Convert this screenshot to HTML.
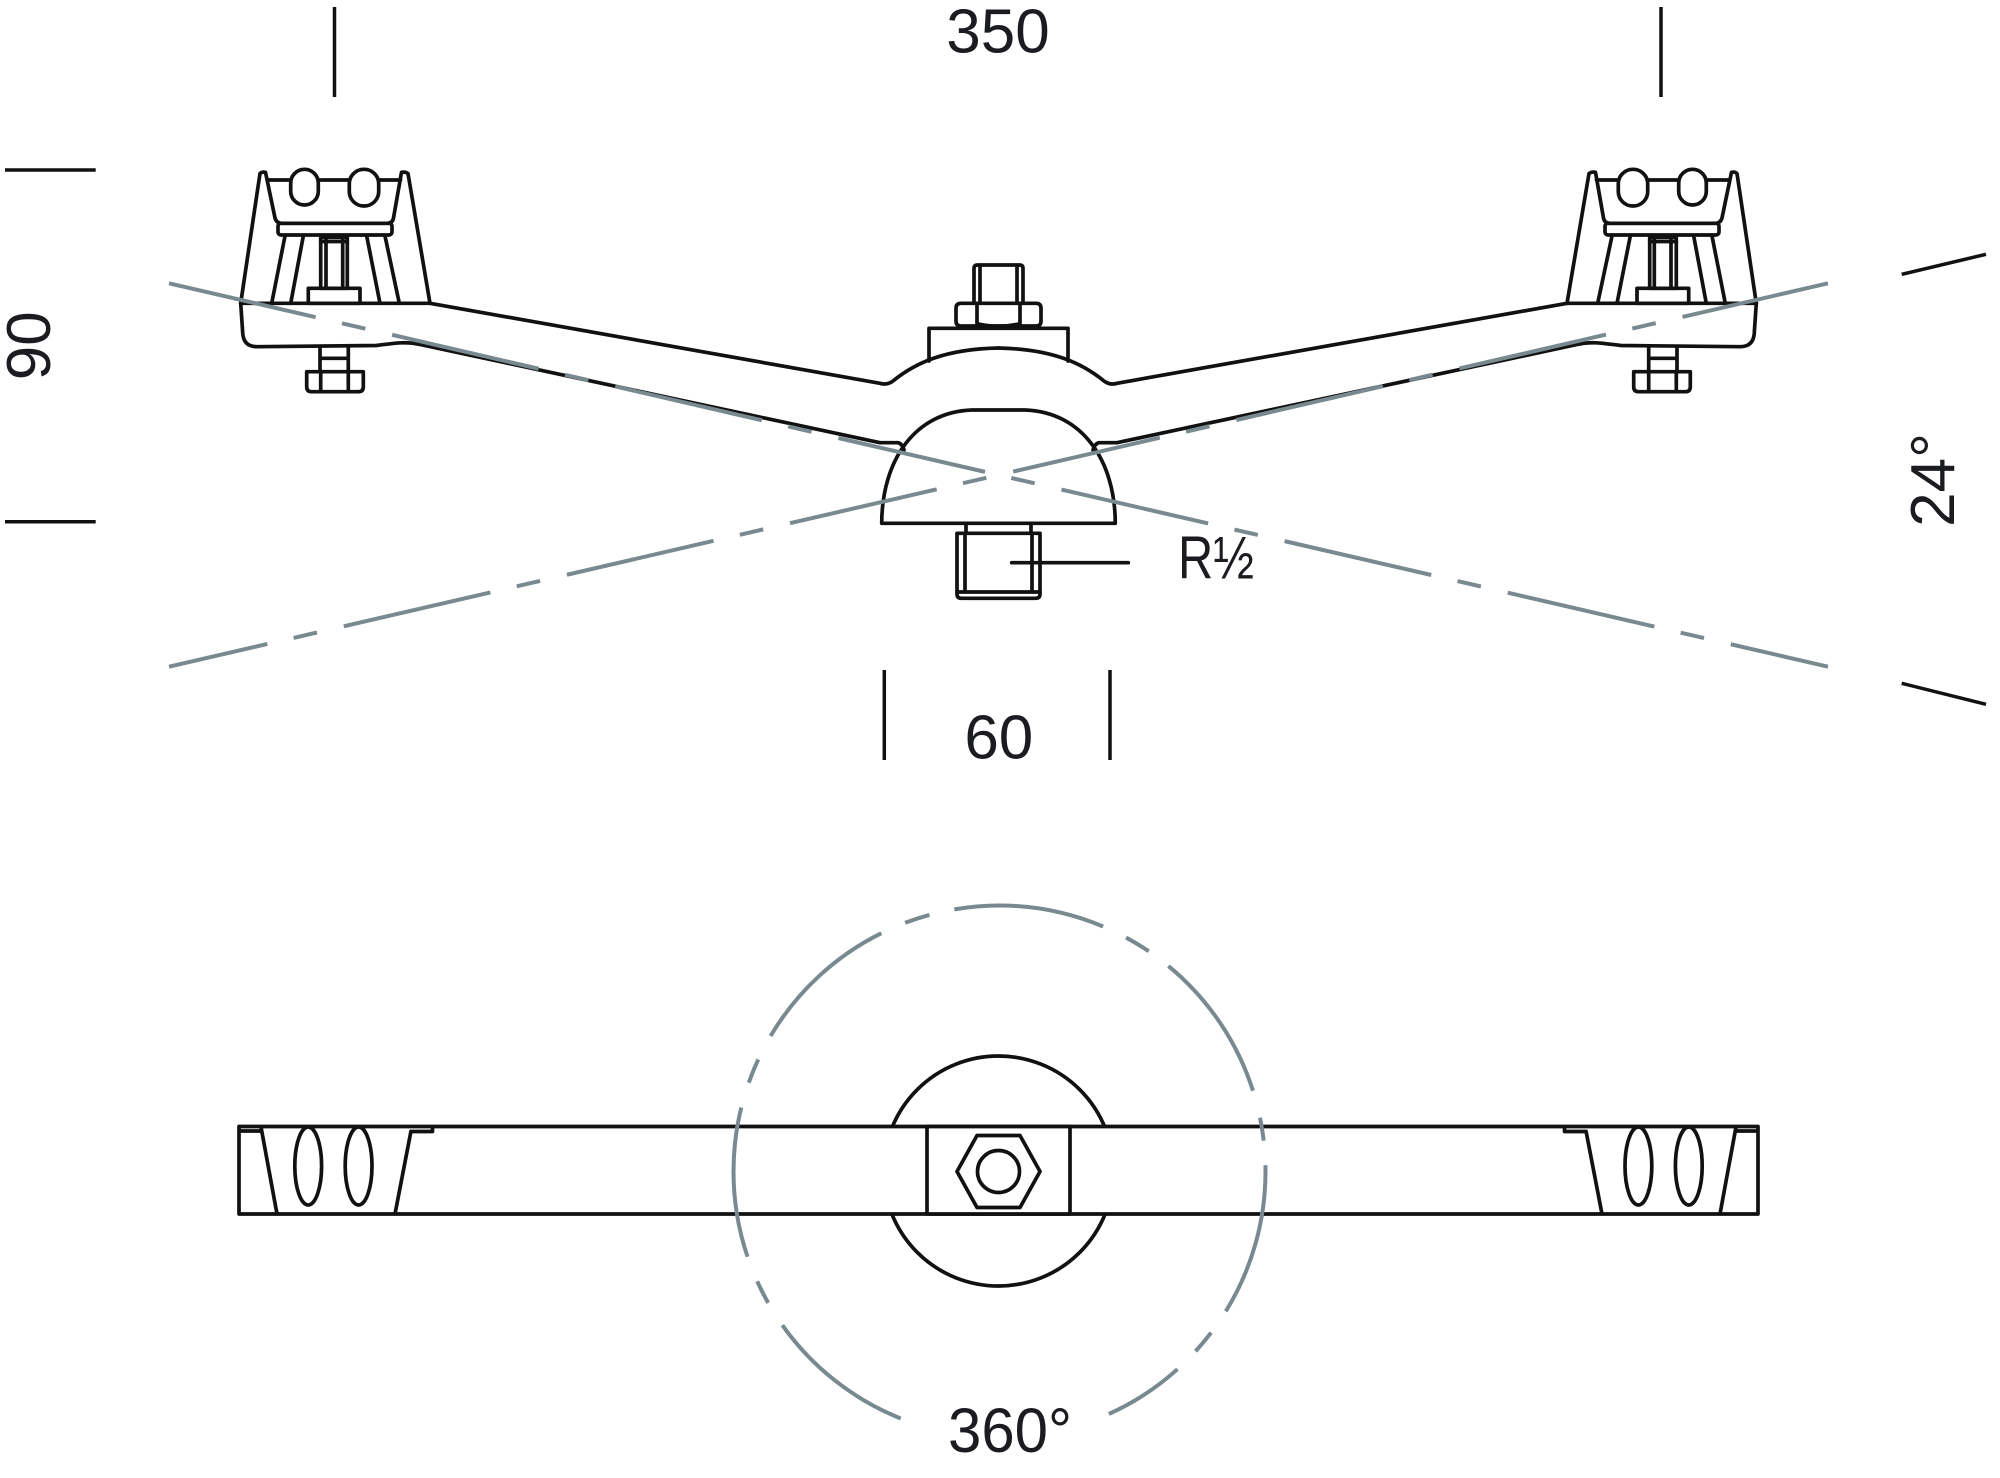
<!DOCTYPE html>
<html>
<head>
<meta charset="utf-8">
<style>
  html,body{margin:0;padding:0;background:#fff;}
  svg{display:block;}
  text{font-family:"Liberation Sans", sans-serif; fill:#1b1c20;}
</style>
</head>
<body>
<svg width="2000" height="1478" viewBox="0 0 2000 1478" xmlns="http://www.w3.org/2000/svg">
  <rect x="0" y="0" width="2000" height="1478" fill="#fff"/>

  <!-- ================= TOP VIEW ================= -->
  <g fill="none" stroke="#111" stroke-width="3.7" stroke-linejoin="round" stroke-linecap="round">
    <g id="leftHalf">
      <path d="M240.7,303.3 L260,173.5 Q262,171.5 265.5,172.3 L275,218 Q276.5,223.3 282,223.3 L387,223.3 Q392.5,223.3 393.5,218 L401.5,172.3 Q405,171.5 408,173.5 L430,303.3"/>
      <path d="M268,180 L290.7,180 M318.3,180 L349.3,180 M378.7,180 L400.5,180"/>
      <rect x="290.7" y="169.3" width="27.6" height="35.7" rx="13.8" ry="13.8"/>
      <rect x="349.3" y="169.3" width="29.4" height="36.7" rx="14.5" ry="14.5"/>
      <rect x="278" y="223.3" width="114" height="11.7" rx="3"/>
      <path d="M285,236 L271.7,303.3 M303.3,236 L290.7,303.3 M366.7,236 L380,303.3 M385,236 L399.3,303.3"/>
      <rect x="320.7" y="237.3" width="26.6" height="51"/>
      <path d="M326,238 L326,288 M342.7,238 L342.7,288 M320.7,241.5 L347.3,241.5"/>
      <rect x="308.3" y="288.3" width="51.7" height="15"/>
      <path d="M240.7,303.3 L430,303.3"/>
      <path d="M240.7,303.3 L242.8,334 Q244,346.7 257,346.7 L376,345.5 C393,343.5 405,341 420,344.5 L880,442.7 L898,442.7 Q902,443.5 904,450"/>
      <path d="M430,303.3 L880,383.3 Q887,385.5 893,381 C915,363 945,349 998.5,348"/>
      <path d="M320,346.7 L320,371.7 M348.3,346.7 L348.3,371.7 M320,358.3 L348.3,358.3"/>
      <path d="M306.7,371.7 L363.3,371.7 L363.3,386.7 Q363.3,391.7 358.3,391.7 L311.7,391.7 Q306.7,391.7 306.7,386.7 Z"/>
      <path d="M320.7,371.7 L320.7,391.7 M348.3,371.7 L348.3,391.7"/>
    </g>
    <use href="#leftHalf" transform="translate(1997,0) scale(-1,1)"/>

    <path d="M929,361 L929,328.3 L1068,328.3 L1068,361"/>
    <path d="M961,303.3 L1036,303.3 Q1041,303.3 1041,308.3 L1041,321 Q1041,326 1036,326 L961,326 Q956,326 956,321 L956,308.3 Q956,303.3 961,303.3 Z"/>
    <path d="M977,303.3 L977,326 M1020,303.3 L1020,326"/>
    <path d="M977,323 Q998.5,328 1020,323" stroke-width="2.2"/>
    <path d="M974,303.3 L974,268.5 Q974,265 977.5,265 L1019.5,265 Q1023,265 1023,268.5 L1023,303.3"/>
    <path d="M980,266 L980,303.3 M1017,266 L1017,303.3"/>

    <path d="M881.7,523.3 C882,460 915,412 972,410 L1025,410 C1082,412 1115,460 1115.3,523.3 Z"/>
    <path d="M966,523.3 L966,533.3 M1031,523.3 L1031,533.3"/>
    <path d="M957,533.3 L1040,533.3 L1040,594 Q1040,598.3 1035.7,598.3 L961.3,598.3 Q957,598.3 957,594 Z"/>
    <path d="M965,533.3 L965,592 M1032,533.3 L1032,592 M957,592 L1040,592"/>
    <path d="M1011.7,562.7 L1128.3,562.7"/>
  </g>

  <!-- dimension ticks -->
  <g stroke="#111" stroke-width="3.5" stroke-linecap="butt" fill="none">
    <path d="M334.5,7 L334.5,97"/>
    <path d="M1661,7 L1661,97"/>
    <path d="M5,170 L95.7,170"/>
    <path d="M5,521.7 L95.7,521.7"/>
    <path d="M884.3,670 L884.3,760"/>
    <path d="M1110,670 L1110,760"/>
    <path d="M1901.7,274.3 L1986,254.3"/>
    <path d="M1901.7,683.3 L1986,704.3"/>
  </g>

  <!-- gray centre lines (top view) -->
  <g stroke="#788a90" stroke-width="4" fill="none" stroke-linecap="butt">
    <line x1="169" y1="283.3" x2="1828" y2="666.7" stroke-dasharray="150.5 27 24 27.5" stroke-dashoffset="0"/>
    <line x1="169" y1="666.7" x2="1828" y2="283.3" stroke-dasharray="150.5 27 24 27.5" stroke-dashoffset="49.6"/>
  </g>

  <!-- texts top -->
  <text x="998" y="52.7" font-size="62" text-anchor="middle">350</text>
  <text transform="translate(50,345.8) rotate(-90)" font-size="62" text-anchor="middle">90</text>
  <text transform="translate(1954,480) rotate(-90)" font-size="62" text-anchor="middle">24°</text>
  <text x="998.8" y="758.3" font-size="62" text-anchor="middle">60</text>
  <text x="1178" y="578.3" font-size="60" textLength="76" lengthAdjust="spacingAndGlyphs">R½</text>

  <!-- ================= BOTTOM VIEW ================= -->
  <g fill="none" stroke="#111" stroke-width="3.7" stroke-linejoin="round">
    <circle cx="998.5" cy="1171" r="115"/>
    <rect x="239" y="1126.5" width="1519" height="87.5" fill="#fff"/>
    <rect x="927" y="1126.5" width="143" height="87.5" fill="#fff"/>
    <polygon points="957,1171.5 977,1135.5 1020,1135.5 1040,1171.5 1020,1207.5 977,1207.5"/>
    <circle cx="998.5" cy="1171.5" r="21"/>

    <g id="barEnd">
      <path d="M239,1131 L260.5,1131"/>
      <path d="M261,1127 L277,1214"/>
      <path d="M411,1131 L395,1214"/>
      <path d="M409.5,1131.5 L432.5,1131.5 L432.5,1126.5"/>
      <ellipse cx="308.2" cy="1166" rx="13.4" ry="39"/>
      <ellipse cx="358.6" cy="1166" rx="13.4" ry="39"/>
    </g>
    <use href="#barEnd" transform="translate(1997,0) scale(-1,1)"/>
  </g>

  <!-- dashed rotation circle -->
  <circle cx="999.5" cy="1171.5" r="266" fill="none" stroke="#788a90" stroke-width="4"
    stroke-dasharray="153.67 26.0 24.14 25.53 82.17 214.02 152.74 26.46 24.14 26.46 151.35 26.0 25.07 26.46 153.21 26.0 25.53 25.53 151.81 25.53 26.46 24.61 152.74 27.86 23.21 24.61"
    stroke-dashoffset="6.5"/>

  <text x="948" y="1452" font-size="63" textLength="124" lengthAdjust="spacingAndGlyphs">360°</text>
</svg>
</body>
</html>
